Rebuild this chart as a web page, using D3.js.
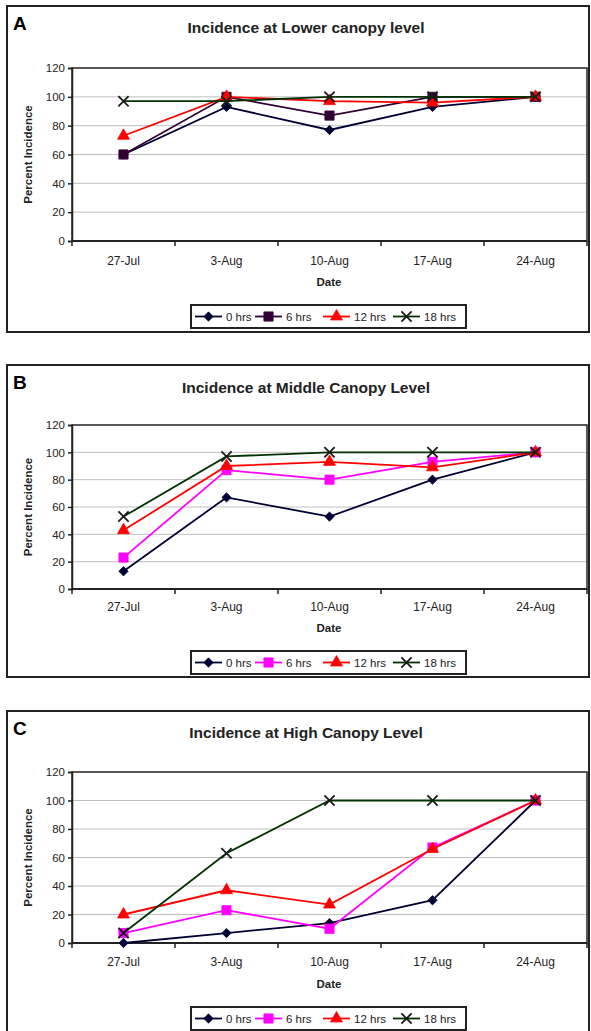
<!DOCTYPE html>
<html>
<head>
<meta charset="utf-8">
<script src="https://cdn.jsdelivr.net/npm/d3@7"></script>
<style>
  body { margin: 0; background: #fff; }
  svg { display: block; font-family: "Liberation Sans", Arial, sans-serif; }
</style>
</head>
<body>
<div id="chart"></div>
<script>
// categories + series
const dates = ["27-Jul", "3-Aug", "10-Aug", "17-Aug", "24-Aug"];
const seriesNames = ["0 hrs", "6 hrs", "12 hrs", "18 hrs"];
const yTicks = [0, 20, 40, 60, 80, 100, 120];

// panel A - lower canopy
const lower0 = [60, 93, 77, 93, 100];
const lower6 = [60, 100, 87, 100, 100];
const lower12 = [73, 100, 97, 96, 100];
const lower18 = [97, 97, 100, 100, 100];

// panel B - middle canopy
const middle0 = [13, 67, 53, 80, 100];
const middle6 = [23, 87, 80, 93, 100];
const middle12 = [43, 90, 93, 89, 100];
const middle18 = [53, 97, 100, 100, 100];

// panel C - high canopy
const high0 = [0, 7, 14, 30, 100];
const high6 = [7, 23, 10, 67, 100];
const high12 = [20, 37, 27, 66, 100];
const high18 = [7, 63, 100, 100, 100];

const W = 591, H = 1031;
const svg = d3.select("#chart").append("svg")
    .attr("width", W)
    .attr("height", H);

// symbols used by each series
const symbolTypes = [d3.symbolDiamond2, d3.symbolSquare, d3.symbolTriangle, d3.symbolX];
const symbolSizes = [55, 85, 62, 70];
// legend entry start offsets (from legend box left)
const legendOffsets = [4, 64, 132, 202];

function drawPanel(cfg) {
    const g = svg.append("g");

    // outer frame
    g.append("rect")
        .attr("x", 7).attr("y", cfg.top)
        .attr("width", 582).attr("height", cfg.height)
        .attr("fill", "none")
        .attr("stroke", "#222")
        .attr("stroke-width", 2);

    g.append("text")
        .attr("x", 13).attr("y", cfg.top + 24)
        .attr("font-size", 19).attr("font-weight", "bold")
        .text(cfg.letter);

    g.append("text")
        .attr("x", 306).attr("y", cfg.titleY)
        .attr("text-anchor", "middle")
        .attr("dominant-baseline", "central")
        .attr("font-size", 15.5).attr("font-weight", "bold")
        .attr("fill", "#222")
        .text(cfg.title);

    const x = d3.scaleBand().domain(dates).range([72, 587]);
    const y = d3.scaleLinear().domain([0, 120]).range([cfg.plotBottom, cfg.plotTop]);

    // gridlines
    g.append("g")
        .selectAll("line")
        .data(yTicks.filter(d => d > 0 && d < 120))
        .join("line")
        .attr("x1", 72).attr("x2", 587)
        .attr("y1", d => y(d)).attr("y2", d => y(d))
        .attr("stroke", "#c0c0c0")
        .attr("stroke-width", 1);

    // plot area border
    g.append("rect")
        .attr("x", 72).attr("y", cfg.plotTop)
        .attr("width", 515).attr("height", cfg.plotBottom - cfg.plotTop)
        .attr("fill", "none")
        .attr("stroke", "#222")
        .attr("stroke-width", 1.5);

    // y axis
    const yAxis = g.append("g")
        .attr("transform", "translate(72,0)")
        .call(d3.axisLeft(y).tickValues(yTicks).tickSize(4).tickPadding(3));
    yAxis.select(".domain").attr("stroke", "#222").attr("stroke-width", 1.5);
    yAxis.selectAll(".tick line").attr("stroke", "#222").attr("stroke-width", 1.5);
    yAxis.selectAll("text").attr("font-size", 11.5).attr("fill", "#222")
        .attr("font-family", "Liberation Sans, Arial, sans-serif");

    // x axis - ticks on band boundaries
    const xAxis = g.append("g")
        .attr("transform", "translate(0," + cfg.plotBottom + ")");
    xAxis.append("line")
        .attr("x1", 72).attr("x2", 587)
        .attr("stroke", "#222").attr("stroke-width", 2);
    xAxis.selectAll(".xtick")
        .data(dates.concat(["end"]))
        .join("line")
        .attr("class", "xtick")
        .attr("x1", (d, i) => 72 + i * x.step())
        .attr("x2", (d, i) => 72 + i * x.step())
        .attr("y1", 0).attr("y2", 5)
        .attr("stroke", "#222").attr("stroke-width", 1.5);
    xAxis.selectAll(".xlab")
        .data(dates)
        .join("text")
        .attr("class", "xlab")
        .attr("x", d => x(d) + x.bandwidth() / 2)
        .attr("y", cfg.xLabelY - cfg.plotBottom)
        .attr("text-anchor", "middle")
        .attr("dominant-baseline", "central")
        .attr("font-size", 12).attr("fill", "#222")
        .text(d => d);

    g.append("text")
        .attr("x", 329).attr("y", cfg.dateY)
        .attr("text-anchor", "middle")
        .attr("dominant-baseline", "central")
        .attr("font-size", 11.5).attr("font-weight", "bold").attr("fill", "#222")
        .text("Date");

    g.append("text")
        .attr("transform", "translate(28," + ((cfg.plotTop + cfg.plotBottom) / 2) + ") rotate(-90)")
        .attr("text-anchor", "middle")
        .attr("dominant-baseline", "central")
        .attr("font-size", 11.5).attr("font-weight", "bold").attr("fill", "#222")
        .text("Percent Incidence");

    const line = d3.line()
        .x((d, i) => x(dates[i]) + x.bandwidth() / 2)
        .y(d => y(d));

    // series
    cfg.series.forEach((vals, si) => {
        const col = cfg.colors[si];
        const sg = g.append("g");
        sg.append("path")
            .datum(vals)
            .attr("d", line)
            .attr("fill", "none")
            .attr("stroke", col.line)
            .attr("stroke-width", 1.8);
        sg.selectAll("path.mk")
            .data(vals)
            .join("path")
            .attr("class", "mk")
            .attr("transform", (d, i) => "translate(" + (x(dates[i]) + x.bandwidth() / 2) + "," + y(d) + ")")
            .attr("d", d3.symbol().type(symbolTypes[si]).size(symbolSizes[si]))
            .attr("fill", si === 3 ? "none" : col.marker)
            .attr("stroke", col.marker)
            .attr("stroke-width", si === 3 ? 1.8 : 0.8);
    });

    // legend
    const lg = g.append("g");
    lg.append("rect")
        .attr("x", 191).attr("y", cfg.legendY)
        .attr("width", 275).attr("height", 23)
        .attr("fill", "#fff")
        .attr("stroke", "#222")
        .attr("stroke-width", 2);
    const ly = cfg.legendY + 11.5;
    seriesNames.forEach((name, si) => {
        const col = cfg.colors[si];
        const lx = 191 + legendOffsets[si];
        lg.append("line")
            .attr("x1", lx).attr("x2", lx + 27)
            .attr("y1", ly).attr("y2", ly)
            .attr("stroke", col.line).attr("stroke-width", 1.8);
        lg.append("path")
            .attr("transform", "translate(" + (lx + 13.5) + "," + ly + ")")
            .attr("d", d3.symbol().type(symbolTypes[si]).size(symbolSizes[si]))
            .attr("fill", si === 3 ? "none" : col.marker)
            .attr("stroke", col.marker)
            .attr("stroke-width", si === 3 ? 1.8 : 0.8);
        lg.append("text")
            .attr("x", lx + 31).attr("y", ly)
            .attr("dominant-baseline", "central")
            .attr("font-size", 11.5).attr("fill", "#222")
            .text(name);
    });
}

const navy = { line: "#000033", marker: "#000033" };
const plum = { line: "#330033", marker: "#330033" };
const magenta = { line: "#ff00ff", marker: "#ff00ff" };
const red = { line: "#ff0000", marker: "#ff0000" };
const green = { line: "#003300", marker: "#1a1a1a" };

drawPanel({
    letter: "A", title: "Incidence at Lower canopy level",
    top: 6, height: 326, titleY: 27,
    plotTop: 68, plotBottom: 241, xLabelY: 261, dateY: 282, legendY: 305,
    series: [lower0, lower6, lower12, lower18],
    colors: [navy, plum, red, green]
});

drawPanel({
    letter: "B", title: "Incidence at Middle Canopy Level",
    top: 365, height: 312, titleY: 387,
    plotTop: 425, plotBottom: 589, xLabelY: 607, dateY: 628, legendY: 651,
    series: [middle0, middle6, middle12, middle18],
    colors: [navy, magenta, red, green]
});

drawPanel({
    letter: "C", title: "Incidence at High Canopy Level",
    top: 711, height: 330, titleY: 732,
    plotTop: 772, plotBottom: 943, xLabelY: 962, dateY: 984, legendY: 1007,
    series: [high0, high6, high12, high18],
    colors: [navy, magenta, red, green]
});
</script>
</body>
</html>
